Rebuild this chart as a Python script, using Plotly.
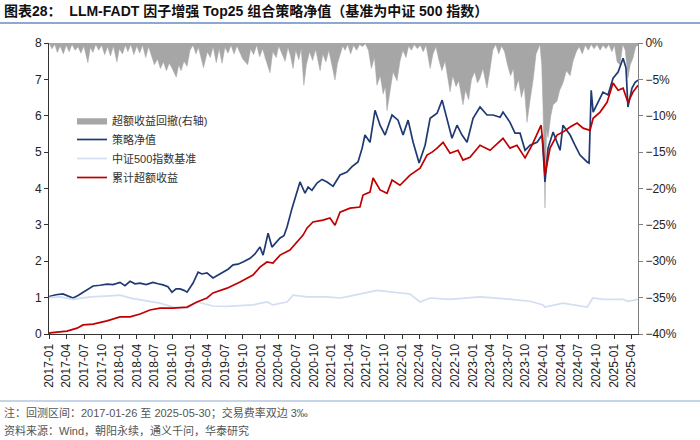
import plotly.graph_objects as go
import pandas as pd

# 超额收益回撤（右轴，%）
dd_dates = [
    "2017-01-26", "2017-02-10", "2017-02-25", "2017-03-10", "2017-03-25", "2017-04-10", "2017-04-25",
    "2017-05-10", "2017-05-25", "2017-06-10", "2017-06-25", "2017-07-10", "2017-07-25", "2017-08-15",
    "2017-08-28", "2017-09-10", "2017-09-25", "2017-10-10", "2017-10-25", "2017-11-10", "2017-11-25",
    "2017-12-10", "2017-12-25", "2018-01-12", "2018-01-25", "2018-02-10", "2018-02-25", "2018-03-10",
    "2018-03-25", "2018-04-10", "2018-04-25", "2018-05-10", "2018-05-25", "2018-06-10", "2018-06-25",
    "2018-07-10", "2018-07-25", "2018-08-10", "2018-08-25", "2018-09-10", "2018-09-25", "2018-10-10",
    "2018-10-25", "2018-11-15", "2018-11-28", "2018-12-10", "2018-12-25", "2019-01-10", "2019-01-25",
    "2019-02-10", "2019-02-25", "2019-03-10", "2019-03-25", "2019-04-05", "2019-04-25", "2019-05-10",
    "2019-05-25", "2019-06-10", "2019-06-25", "2019-07-10", "2019-07-25", "2019-08-10", "2019-08-25",
    "2019-09-10", "2019-09-25", "2019-10-10", "2019-10-25", "2019-11-20", "2019-12-05", "2019-12-20",
    "2020-01-05", "2020-01-20", "2020-02-05", "2020-02-20", "2020-03-14", "2020-03-28", "2020-04-15",
    "2020-04-28", "2020-05-15", "2020-05-31", "2020-06-15", "2020-06-28", "2020-07-11", "2020-07-25",
    "2020-08-10", "2020-08-22", "2020-09-05", "2020-09-18", "2020-10-05", "2020-10-20", "2020-11-05",
    "2020-11-28", "2020-12-12", "2020-12-28", "2021-01-12", "2021-01-28", "2021-02-13", "2021-02-26",
    "2021-03-12", "2021-03-25", "2021-04-06", "2021-04-20", "2021-05-05", "2021-05-20", "2021-06-05",
    "2021-06-20", "2021-07-05", "2021-07-20", "2021-08-05", "2021-08-20", "2021-09-05", "2021-09-18",
    "2021-10-05", "2021-10-20", "2021-11-01", "2021-11-09", "2021-11-25", "2021-12-10", "2021-12-31",
    "2022-01-15", "2022-01-30", "2022-02-15", "2022-03-01", "2022-03-15", "2022-03-30", "2022-04-15",
    "2022-04-30", "2022-05-15", "2022-05-30", "2022-06-20", "2022-07-05", "2022-07-20", "2022-08-05",
    "2022-08-20", "2022-09-05", "2022-09-20", "2022-10-01", "2022-10-15", "2022-11-01", "2022-11-15",
    "2022-12-07", "2022-12-20", "2023-01-05", "2023-01-20", "2023-02-05", "2023-02-20", "2023-03-05",
    "2023-03-20", "2023-04-10", "2023-04-25", "2023-05-10", "2023-05-25", "2023-06-10", "2023-06-25",
    "2023-07-10", "2023-07-25", "2023-08-10", "2023-08-25", "2023-09-02", "2023-09-20", "2023-10-05",
    "2023-10-20", "2023-11-03", "2023-11-18", "2023-12-05", "2023-12-20", "2024-01-09", "2024-01-18",
    "2024-01-25", "2024-02-04", "2024-02-12", "2024-02-20", "2024-03-05", "2024-03-17", "2024-04-06",
    "2024-04-20", "2024-05-07", "2024-05-25", "2024-06-13", "2024-06-28", "2024-07-15", "2024-07-30",
    "2024-08-15", "2024-08-30", "2024-09-15", "2024-09-30", "2024-10-15", "2024-10-30", "2024-11-15",
    "2024-11-30", "2024-12-15", "2024-12-30", "2025-01-15", "2025-01-28", "2025-02-11", "2025-02-26",
    "2025-03-12", "2025-03-25", "2025-04-08", "2025-04-20", "2025-05-05", "2025-05-18", "2025-05-30",
]
dd_values = [
    0, -0.8, -0.2, -1.3, -0.4, -1.5, -0.3,
    -1.2, -0.2, -1.0, -0.5, -1.4, -0.4, -2.7,
    -0.6, -1.3, -0.2, -1.0, -0.3, -1.6, -0.5,
    -1.8, -0.4, -2.6, -0.8, -1.5, -0.3, -1.2,
    -0.2, -1.6, -0.4, -1.4, -0.3, -2.0, -0.5,
    -1.8, -3.0, -2.2, -3.5, -2.6, -3.8, -2.8,
    -3.5, -4.7, -3.0, -3.8, -2.5, -3.2, -1.0,
    -0.3, -1.5, -0.6, -2.0, -3.4, -1.2, -2.0,
    -0.5, -2.7, -0.8, -2.8, -0.6, -1.4, -0.3,
    -1.5, -0.4, -1.2, -2.2, -3.0, -0.8, -1.6,
    -0.3, -1.9, -0.8, -2.2, -4.1, -1.2, -2.0,
    -0.4, -1.5, -2.5, -0.6, -1.8, -3.5, -1.0,
    -2.3, -0.8, -5.8, -3.0, -1.2, -2.4, -0.9,
    -3.8, -1.5, -2.6, -1.0, -3.2, -5.1, -2.8,
    -1.6, -0.4, -1.0, -0.2, -1.5, -0.3, -1.0,
    -0.2, -0.5, -0.1, -1.0, -3.5, -2.0, -5.8,
    -4.5, -7.0, -6.0, -9.3, -6.6, -4.0, -5.2,
    -2.5, -1.0, -2.0, -0.4, -1.0, -0.2, -0.8,
    -0.3, -1.2, -0.3, -3.5, -1.5, -0.5, -2.4,
    -3.8, -2.5, -5.0, -6.7, -4.5, -6.0, -5.2,
    -8.5, -6.5, -7.8, -5.0, -4.0, -5.5, -4.8,
    -3.5, -6.2, -3.8, -1.0, -0.2, -1.5, -0.4,
    -1.2, -3.0, -4.5, -3.5, -6.6, -5.0, -7.5,
    -6.0, -10.9, -8.0, -5.0, -1.5, -0.2, -3.0,
    -9.0, -22.7, -12.0, -13.0, -10.0, -8.5, -8.0,
    -6.5, -5.5, -3.8, -4.5, -2.5, -1.2, -0.5,
    -1.5, -0.3, -1.0, -0.2, -0.8, -0.2, -1.0,
    -0.3, -0.8, -0.2, -1.2, -0.3, -2.6, -3.0,
    -0.2, -1.0, -4.8, -3.0, -2.0, -0.5, -0.3,
]

# 策略净值
nav_dates = [
    "2017-01-26", "2017-03-03", "2017-04-08", "2017-05-04", "2017-05-30", "2017-06-25", "2017-07-21",
    "2017-08-16", "2017-09-11", "2017-10-17", "2017-11-22", "2017-12-23", "2018-01-28", "2018-02-23",
    "2018-03-21", "2018-04-16", "2018-05-12", "2018-06-12", "2018-07-18", "2018-08-13", "2018-09-08",
    "2018-10-03", "2018-10-24", "2018-11-14", "2018-12-05", "2018-12-25", "2019-01-10", "2019-02-10",
    "2019-03-08", "2019-03-28", "2019-04-23", "2019-05-24", "2019-06-19", "2019-07-15", "2019-08-10",
    "2019-09-05", "2019-09-30", "2019-10-26", "2019-12-02", "2019-12-27", "2020-01-22", "2020-02-07",
    "2020-03-04", "2020-03-24", "2020-04-13", "2020-05-05", "2020-05-25", "2020-06-10", "2020-07-06",
    "2020-08-01", "2020-08-16", "2020-09-11", "2020-09-27", "2020-10-17", "2020-11-12", "2020-12-08",
    "2021-01-03", "2021-02-03", "2021-03-11", "2021-04-16", "2021-05-12", "2021-06-12", "2021-07-03",
    "2021-07-18", "2021-08-13", "2021-09-08", "2021-10-04", "2021-10-30", "2021-12-05", "2022-01-05",
    "2022-01-31", "2022-02-26", "2022-03-24", "2022-04-24", "2022-05-25", "2022-06-20", "2022-07-26",
    "2022-08-21", "2022-09-16", "2022-10-11", "2022-11-06", "2022-12-02", "2022-12-28", "2023-01-28",
    "2023-03-05", "2023-04-10", "2023-05-11", "2023-06-17", "2023-07-02", "2023-08-07", "2023-09-02",
    "2023-09-28", "2023-10-24", "2023-11-19", "2023-12-25", "2024-01-20", "2024-02-04", "2024-02-20",
    "2024-03-17", "2024-04-22", "2024-05-07", "2024-06-13", "2024-07-08", "2024-08-03", "2024-09-09",
    "2024-09-19", "2024-09-30", "2024-10-10", "2024-11-04", "2024-11-30", "2024-12-26", "2025-01-21",
    "2025-02-16", "2025-03-14", "2025-03-29", "2025-04-08", "2025-04-29", "2025-05-15", "2025-05-30",
]
nav_values = [
    1.03, 1.08, 1.10, 1.04, 0.99, 1.06, 1.15,
    1.22, 1.32, 1.34, 1.37, 1.36, 1.42, 1.33,
    1.45, 1.38, 1.40, 1.36, 1.42, 1.38, 1.35,
    1.30, 1.15, 1.24, 1.24, 1.20, 1.15, 1.40,
    1.70, 1.65, 1.68, 1.54, 1.62, 1.70, 1.78,
    1.90, 1.92, 1.98, 2.08, 2.20, 2.39, 2.17,
    2.77, 2.39, 2.50, 2.64, 2.70, 2.94, 3.46,
    3.90, 4.18, 3.87, 4.04, 3.95, 4.15, 4.25,
    4.18, 4.06, 4.37, 4.45, 4.60, 4.73, 5.10,
    5.47, 5.27, 6.15, 5.74, 5.47, 6.02, 5.88,
    5.47, 5.88, 5.27, 4.70, 5.19, 5.93, 6.07,
    6.43, 5.93, 5.38, 5.74, 5.47, 5.27, 5.93,
    6.24, 6.02, 6.02, 5.96, 6.10, 5.82, 5.52,
    5.52, 5.05, 5.19, 5.27, 5.47, 4.18, 5.11,
    5.55, 5.05, 5.74, 5.47, 5.19, 4.92, 4.73,
    4.70, 6.70, 6.10, 6.37, 6.65, 6.57, 7.03,
    7.20, 7.58, 7.31, 6.24, 6.76, 6.92, 6.98,
]

# 中证500指数基准
bench_dates = [
    "2017-01-26", "2017-03-24", "2017-05-30", "2017-08-26", "2017-12-07", "2018-01-28", "2018-03-31",
    "2018-06-17", "2018-08-23", "2018-10-29", "2019-01-10", "2019-03-02", "2019-05-24", "2019-08-05",
    "2019-10-11", "2019-12-17", "2020-02-27", "2020-03-29", "2020-06-10", "2020-07-11", "2020-09-21",
    "2021-01-03", "2021-03-11", "2021-05-02", "2021-09-18", "2021-12-31", "2022-03-08", "2022-04-29",
    "2022-06-20", "2022-10-01", "2023-03-05", "2023-07-02", "2023-11-19", "2024-01-25", "2024-02-04",
    "2024-05-07", "2024-09-09", "2024-10-08", "2024-11-30", "2025-03-14", "2025-04-08", "2025-05-30",
]
bench_values = [
    1.00, 1.02, 0.95, 1.02, 1.05, 1.07, 0.98,
    0.92, 0.85, 0.74, 0.71, 0.88, 0.77, 0.76,
    0.77, 0.80, 0.88, 0.80, 0.88, 1.07, 1.02,
    1.02, 0.99, 1.04, 1.20, 1.15, 1.10, 0.88,
    0.99, 0.95, 1.02, 0.97, 0.90, 0.80, 0.74,
    0.85, 0.74, 0.99, 0.95, 0.95, 0.90, 0.95,
]

# 累计超额收益
excess_dates = [
    "2017-01-26", "2017-01-31", "2017-04-29", "2017-06-20", "2017-07-21", "2017-09-11", "2017-11-22",
    "2018-01-28", "2018-03-21", "2018-05-12", "2018-07-02", "2018-08-23", "2018-10-29", "2019-01-10",
    "2019-03-02", "2019-04-23", "2019-05-24", "2019-08-05", "2019-10-11", "2019-12-17", "2020-01-22",
    "2020-02-27", "2020-03-29", "2020-05-05", "2020-06-25", "2020-08-01", "2020-09-01", "2020-09-21",
    "2020-10-22", "2020-12-13", "2021-01-18", "2021-02-13", "2021-03-11", "2021-05-02", "2021-06-22",
    "2021-07-08", "2021-08-13", "2021-08-29", "2021-10-04", "2021-11-09", "2021-12-05", "2022-01-15",
    "2022-03-08", "2022-04-29", "2022-06-04", "2022-06-30", "2022-07-26", "2022-08-26", "2022-10-01",
    "2022-11-11", "2022-12-07", "2023-01-12", "2023-03-05", "2023-04-26", "2023-07-02", "2023-08-07",
    "2023-09-12", "2023-10-24", "2023-11-29", "2024-01-15", "2024-01-25", "2024-02-04", "2024-03-01",
    "2024-04-06", "2024-05-07", "2024-06-13", "2024-07-19", "2024-08-19", "2024-09-24", "2024-10-10",
    "2024-11-15", "2024-12-21", "2025-01-21", "2025-02-16", "2025-03-14", "2025-04-08", "2025-05-04",
    "2025-05-30",
]
excess_values = [
    0.00, 0.03, 0.08, 0.16, 0.25, 0.27, 0.36,
    0.47, 0.47, 0.55, 0.66, 0.71, 0.71, 0.74,
    0.88, 0.99, 1.13, 1.26, 1.43, 1.62, 1.84,
    1.98, 1.95, 2.17, 2.31, 2.53, 2.72, 2.91,
    3.08, 3.13, 3.19, 2.99, 3.35, 3.46, 3.49,
    3.82, 3.90, 4.29, 3.96, 3.87, 4.23, 4.09,
    4.37, 4.56, 4.92, 5.00, 5.11, 5.27, 4.97,
    5.05, 4.78, 4.86, 5.19, 5.05, 5.38, 5.11,
    5.19, 4.84, 5.19, 5.74, 5.19, 4.37, 5.11,
    5.47, 5.55, 5.69, 5.80, 5.66, 5.60, 5.93,
    6.10, 6.37, 6.90, 6.70, 6.76, 6.37, 6.65,
    6.84,
]

# 横轴刻度
tick_dates = pd.date_range("2017-01-26", "2025-05-30", freq=pd.DateOffset(months=3))
tick_labels = [d.strftime("%Y-%m") for d in tick_dates]

# 绘图区像素位置
L, R, T, B = 49, 638, 43, 334
W, H = 700, 440

def px_x(px):
    return (px - L) / (R - L)

def px_y(py):
    return (B - py) / (B - T)

font_main = "Liberation Sans, Arial, Noto Sans CJK SC"

fig = go.Figure()
fig.add_trace(go.Scatter(
    x=pd.to_datetime(dd_dates), y=dd_values, name="超额收益回撤(右轴)",
    mode="lines", line=dict(color="#A6A6A6", width=0.5), fill="tozeroy",
    fillcolor="#A6A6A6", yaxis="y",
))
fig.add_trace(go.Scatter(
    x=pd.to_datetime(nav_dates), y=nav_values, name="策略净值",
    mode="lines", line=dict(color="#1F3A73", width=1.7), yaxis="y2",
))
fig.add_trace(go.Scatter(
    x=pd.to_datetime(bench_dates), y=bench_values, name="中证500指数基准",
    mode="lines", line=dict(color="#D3DEF2", width=1.7), yaxis="y2",
))
fig.add_trace(go.Scatter(
    x=pd.to_datetime(excess_dates), y=excess_values, name="累计超额收益",
    mode="lines", line=dict(color="#C00000", width=1.7), yaxis="y2",
))

fig.update_layout(
    width=W, height=H, autosize=False,
    margin=dict(l=L, r=W - R, t=T, b=H - B),
    paper_bgcolor="white", plot_bgcolor="white",
    font=dict(family=font_main, size=12, color="#222222"),
    showlegend=True,
    legend=dict(
        x=px_x(72), y=px_y(106), xanchor="left", yanchor="top",
        bgcolor="rgba(0,0,0,0)", font=dict(size=11, color="#333333"),
        tracegroupgap=0, itemwidth=30,
    ),
    xaxis=dict(
        type="date", range=["2017-01-26", "2025-05-30"],
        tickvals=tick_dates, ticktext=tick_labels, tickangle=-90,
        ticks="outside", ticklen=4, tickcolor="#333333",
        showline=True, linecolor="#333333", linewidth=1,
        showgrid=False, zeroline=False, tickfont=dict(size=12),
    ),
    yaxis=dict(
        side="right", range=[-40, 0], dtick=5, ticksuffix="%",
        ticks="outside", ticklen=4, tickcolor="#808080",
        showline=True, linecolor="#808080", linewidth=1,
        showgrid=False, zeroline=False, tickfont=dict(size=12),
    ),
    yaxis2=dict(
        overlaying="y", side="left", range=[0, 8], dtick=1,
        ticks="outside", ticklen=4, tickcolor="#333333",
        showline=True, linecolor="#333333", linewidth=1,
        showgrid=False, zeroline=False, tickfont=dict(size=12),
    ),
)

# 标题与注释
fig.add_annotation(
    text="<b>图表28：  LLM-FADT 因子增强 Top25 组合策略净值（基准为中证 500 指数）</b>",
    xref="paper", yref="paper", x=px_x(2), y=px_y(11),
    xanchor="left", yanchor="middle", showarrow=False,
    font=dict(size=14, color="#111111", family="Liberation Sans, Noto Sans CJK SC"),
)
fig.add_annotation(
    text="注：回测区间：2017-01-26 至 2025-05-30；交易费率双边 3‰",
    xref="paper", yref="paper", x=px_x(2), y=px_y(412),
    xanchor="left", yanchor="middle", showarrow=False,
    font=dict(size=11, color="#555555"),
)
fig.add_annotation(
    text="资料来源：Wind，朝阳永续，通义千问，华泰研究",
    xref="paper", yref="paper", x=px_x(2), y=px_y(430),
    xanchor="left", yanchor="middle", showarrow=False,
    font=dict(size=11, color="#555555"),
)
fig.add_shape(type="line", xref="paper", yref="paper",
              x0=px_x(0), x1=px_x(700), y0=px_y(23), y1=px_y(23),
              line=dict(color="#8DA9CF", width=2))
fig.add_shape(type="line", xref="paper", yref="paper",
              x0=px_x(0), x1=px_x(700), y0=px_y(401), y1=px_y(401),
              line=dict(color="#8DA9CF", width=1))

fig.write_html("out.html", config={"displayModeBar": False},
               post_script="document.body.style.margin='0';")
